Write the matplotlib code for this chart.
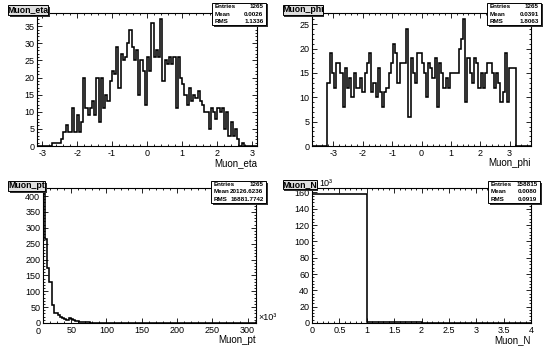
import numpy as np
import matplotlib
matplotlib.use('Agg')
import matplotlib.pyplot as plt
from matplotlib.ticker import MultipleLocator, FuncFormatter
from matplotlib.patches import Rectangle

plt.rcParams['font.family'] = ['Liberation Sans', 'DejaVu Sans']
plt.rcParams['axes.unicode_minus'] = False

W, H = 550, 355

# ---- histogram contents ----
eta_range = (-3.15, 3.15)
eta_counts = [0, 0, 0, 0, 0, 0, 0, 1, 1, 1,
              1, 2, 4, 6, 4, 4, 11, 4, 9, 4,
              7, 20, 11, 9, 11, 13, 9, 20, 7, 20,
              11, 15, 13, 19, 22, 21, 29, 17, 27, 25,
              26, 30, 34, 29, 25, 28, 15, 25, 22, 12,
              26, 22, 36, 26, 28, 26, 37, 19, 25, 24,
              26, 24, 26, 11, 26, 20, 18, 15, 12, 17,
              13, 15, 14, 16, 13, 12, 10, 10, 5, 11,
              10, 8, 11, 10, 11, 5, 10, 3, 7, 3,
              5, 2, 0, 1, 0, 0, 0, 0, 0, 0]

phi_range = (-3.73, 3.73)
phi_counts = [0, 0, 0, 0, 0, 0, 0, 13, 19, 15,
              12, 17, 17, 15, 8, 16, 12, 14, 10, 15,
              12, 12, 14, 11, 15, 17, 19, 11, 13, 10,
              16, 11, 8, 11, 12, 15, 17, 21, 19, 13,
              17, 17, 17, 24, 6, 18, 15, 13, 19, 19,
              17, 15, 10, 17, 16, 14, 18, 8, 17, 15,
              12, 14, 12, 15, 15, 15, 15, 20, 22, 26,
              9, 18, 15, 13, 18, 17, 12, 15, 12, 15,
              17, 17, 15, 12, 15, 13, 9, 11, 19, 9,
              16, 16, 16, 0, 0, 0, 0, 0, 0, 0]

pt_range = (10, 312)   # x10^3
pt_counts = [405, 265, 172, 130, 58, 33, 30, 25, 20, 17,
             14, 11, 15, 12, 9, 7, 5, 4, 3, 3,
             2, 2, 1, 1, 1, 0, 1, 0, 0, 0,
             1, 0, 0, 0, 0, 0, 0, 0, 0, 0,
             0, 0, 0, 0, 0, 0, 0, 0, 0, 0,
             0, 0, 0, 0, 0, 1, 0, 0, 0, 0] + [0] * 40

n_range = (0, 4)
n_counts = [157585, 1190, 40, 0]

titles = ['Muon_eta', 'Muon_phi', 'Muon_pt', 'Muon_N']
stats = [('1265', '0.0026', '1.1336'),
         ('1265', '0.0391', '1.8063'),
         ('1265', '20126.6236', '16881.7742'),
         ('158815', '0.0080', '0.0919')]

fig = plt.figure(figsize=(W / 100, H / 100), dpi=100, facecolor='white')


def fx(x):
    return x / W


def fy(y):
    return 1 - y / H


def box(x0, y0, x1, y1, fc, shadow=True):
    if shadow:
        fig.add_artist(Rectangle((fx(x0 + 1.5), fy(y1 + 1.5)), (x1 - x0) / W, (y1 - y0) / H,
                                 transform=fig.transFigure, fc='#303030', ec='none', zorder=5))
    fig.add_artist(Rectangle((fx(x0), fy(y1)), (x1 - x0) / W, (y1 - y0) / H,
                             transform=fig.transFigure, fc=fc, ec='black', lw=0.7, zorder=6))


def panel(frame, counts, rng, title, st, tbox, sbox, xmaj, xmin, ymaj, ymin):
    l, t, r, b = frame
    ax = fig.add_axes([fx(l), fy(b), (r - l) / W, (b - t) / H])
    edges = np.linspace(rng[0], rng[1], len(counts) + 1)
    ax.stairs(counts, edges, color='black', lw=1.15)
    ax.set_xlim(rng)
    ax.set_ylim(0, max(counts) * 1.05)
    ax.xaxis.set_major_locator(MultipleLocator(xmaj))
    ax.xaxis.set_minor_locator(MultipleLocator(xmin))
    ax.yaxis.set_major_locator(MultipleLocator(ymaj))
    ax.yaxis.set_minor_locator(MultipleLocator(ymin))
    ax.xaxis.set_major_formatter(FuncFormatter(lambda v, p: '%g' % round(v, 6)))
    ax.yaxis.set_major_formatter(FuncFormatter(lambda v, p: '%g' % round(v, 6)))
    ax.tick_params(which='both', direction='in', top=True, right=True, width=0.6,
                   labelsize=6.5, pad=2)
    ax.tick_params(which='major', length=3.3)
    ax.tick_params(which='minor', length=1.7)
    for s in ax.spines.values():
        s.set_linewidth(0.8)
    # axis title, right aligned under the frame
    fig.text(fx(r), fy(b + 12), title, ha='right', va='top', fontsize=7)
    # title box
    x0, y0, x1, y1 = tbox
    box(x0, y0, x1, y1, '#dedede')
    fig.text(fx((x0 + x1) / 2), fy((y0 + y1) / 2), title, ha='center', va='center',
             fontsize=6.3, fontweight='bold', zorder=7)
    # stats box
    x0, y0, x1, y1 = sbox
    box(x0, y0, x1, y1, 'white')
    rh = (y1 - y0) / 3
    for k, (lab, val) in enumerate(zip(['Entries', 'Mean', 'RMS'], st)):
        yc = y0 + rh * (k + 0.5)
        fig.text(fx(x0 + 3), fy(yc), lab, ha='left', va='center', fontsize=4.5,
                 fontweight='bold', zorder=7)
        fig.text(fx(x1 - 2.5), fy(yc), val, ha='right', va='center', fontsize=4.5,
                 fontweight='bold', zorder=7)
    return ax


ax1 = panel((37, 13, 257, 146), eta_counts, eta_range, titles[0], stats[0],
            (8, 5, 48, 15), (212, 3, 266, 25), 1, 0.2, 5, 1)
ax2 = panel((312, 13, 531, 146), phi_counts, phi_range, titles[1], stats[1],
            (283, 5, 323, 15), (487, 3, 541, 25), 1, 0.2, 5, 1)
ax3 = panel((43, 188, 256, 323), pt_counts, pt_range, titles[2], stats[2],
            (8, 181, 45, 191), (211, 181, 266, 203), 50, 10, 50, 10)
ax4 = panel((312, 188, 531, 323), [c / 1000 for c in n_counts], n_range, titles[3], stats[3],
            (283, 180, 317, 189.5), (488, 181, 540, 203), 0.5, 0.1, 20, 4)

# pt axis: "0" label and x10^3 exponent
fig.text(fx(38.5), fy(327), '0', ha='center', va='top', fontsize=6.5)
fig.text(fx(258), fy(318), '\u00d710\u00b3', ha='left', va='center', fontsize=6.5)
# N axis: 10^3 exponent next to the title box
fig.text(fx(319.5), fy(184), '10\u00b3', ha='left', va='center', fontsize=6.5)

fig.savefig('out.png', dpi=100, facecolor='white')
